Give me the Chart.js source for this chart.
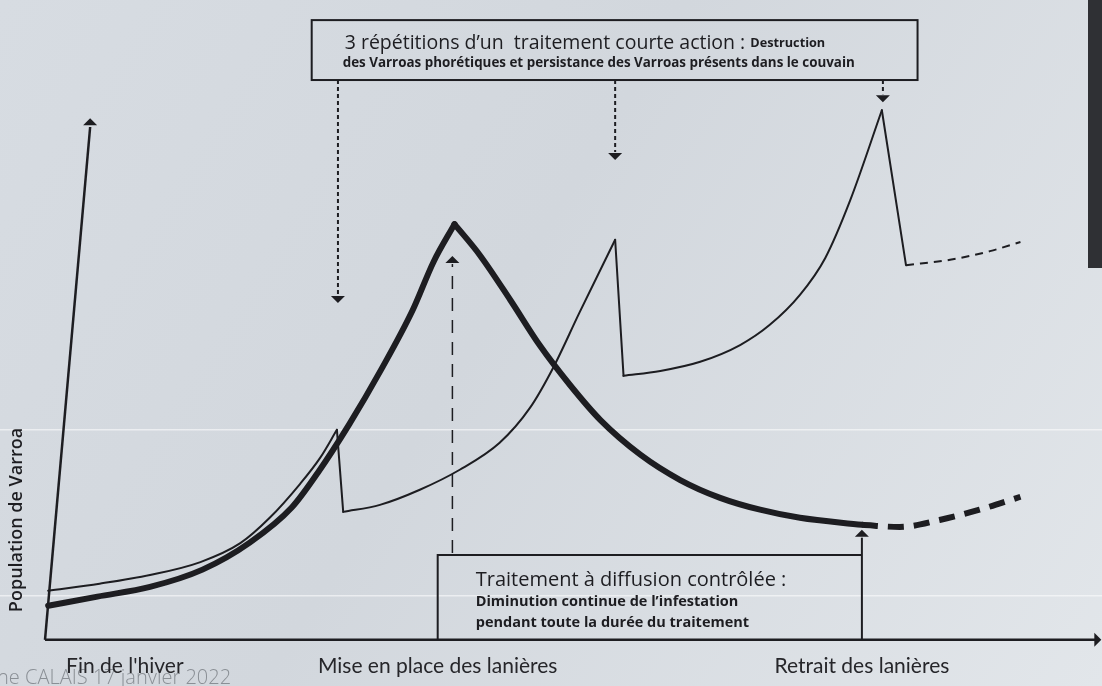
<!DOCTYPE html>
<html>
<head>
<meta charset="utf-8">
<script src="https://cdn.jsdelivr.net/npm/chart.js@4.4.0/dist/chart.umd.min.js"></script>
<style>
  html, body { margin: 0; padding: 0; background: #d8dde3; }
  #wrap { width: 1102px; height: 686px; }
</style>
</head>
<body>
<div id="wrap"><canvas id="myChart"></canvas></div>
<script>
// x : temps (unités arbitraires 0-100), y : population de Varroa (unités arbitraires 0-100)
const eventLabels = ['Fin de l\'hiver', 'Mise en place des lanières', 'Retrait des lanières'];
const eventX = [7.6, 37.4, 77.8];

// courbe épaisse : traitement à diffusion contrôlée
const thickRiseX = [0.3, 5, 10, 15, 19.5, 23.5, 26, 29, 32, 35, 37, 39];
const thickRiseY = [6.3, 8, 9.8, 13, 18, 24.5, 31, 40, 50, 61, 70, 77];
const thickFallX = [39, 41.4, 44.3, 47.1, 50, 52.9, 56.7, 60.5, 64.3, 68.1, 71.9, 77.8];
const thickFallY = [77, 71.3, 63, 54.6, 47.2, 40.7, 34.3, 29.6, 26.3, 24.1, 22.6, 21.3];
const thickAfterX = [77.8, 81.4, 85.2, 89, 92.9];
const thickAfterY = [21.3, 20.9, 22.2, 24.1, 26.5];

// courbe fine : 3 traitements courte action
const thinAX = [0.3, 5.2, 10, 14.8, 18.6, 21.4, 24.3, 26.2, 27.8];
const thinAY = [9.1, 10.4, 12, 14.4, 17.9, 22.6, 28.9, 33.7, 38.9];
const thinBX = [28.4, 31.9, 35.7, 39.5, 43.3, 46.2, 48.4, 50.9, 54.3];
const thinBY = [23.7, 25, 27.8, 31.5, 36.5, 43, 50.4, 60.6, 74.1];
const thinCX = [55.1, 58.6, 62.4, 66.2, 69, 71.9, 74.3, 76.7, 79.7];
const thinCY = [48.9, 49.8, 51.5, 54.6, 58.3, 63.9, 70.7, 81.5, 98.1];
const thinAfterX = [82, 86.2, 90, 92.9];
const thinAfterY = [69.4, 70.4, 72, 73.7];

// traitements courte action (position et pointe des flèches)
const shortTreatX = [27.9, 54.3, 79.8];
const shortTreatTipY = [62.4, 88.9, 99.6];

const ink = '#1d1d21';
const pts = (xs, ys) => xs.map((x, i) => ({ x: x, y: ys[i] }));

function line(data, width, extra) {
    return Object.assign({
        data: data,
        showLine: true,
        borderColor: ink,
        borderWidth: width,
        pointRadius: 0,
        fill: false,
        clip: false,
        borderCapStyle: 'round',
        borderJoinStyle: 'round'
    }, extra || {});
}
const smooth = { cubicInterpolationMode: 'monotone' };

const datasets = [
    line(pts(thickRiseX, thickRiseY), 6, smooth),
    line(pts(thickFallX, thickFallY), 6, smooth),
    line(pts(thickAfterX, thickAfterY), 6, Object.assign({ borderDash: [16, 10], borderCapStyle: 'butt' }, smooth)),
    line(pts(thinAX, thinAY), 2, smooth),
    line([{ x: thinAX[thinAX.length - 1], y: thinAY[thinAY.length - 1] }, { x: thinBX[0], y: thinBY[0] }], 2),
    line(pts(thinBX, thinBY), 2, smooth),
    line([{ x: thinBX[thinBX.length - 1], y: thinBY[thinBY.length - 1] }, { x: thinCX[0], y: thinCY[0] }], 2),
    line(pts(thinCX, thinCY), 2, smooth),
    line([{ x: thinCX[thinCX.length - 1], y: thinCY[thinCY.length - 1] }, { x: thinAfterX[0], y: thinAfterY[0] }], 2),
    line(pts(thinAfterX, thinAfterY), 2, Object.assign({ borderDash: [8, 6], borderCapStyle: 'butt' }, smooth))
];

function arrowHead(ctx, x, y, dir, size) {
    const s = size || 8;
    ctx.beginPath();
    if (dir === 'up') {
        ctx.moveTo(x, y); ctx.lineTo(x - s, y + s); ctx.lineTo(x + s, y + s);
    } else if (dir === 'down') {
        ctx.moveTo(x, y); ctx.lineTo(x - s, y - s); ctx.lineTo(x + s, y - s);
    } else {
        ctx.moveTo(x, y); ctx.lineTo(x - s, y - s); ctx.lineTo(x - s, y + s);
    }
    ctx.closePath();
    ctx.fill();
}

const background = {
    id: 'background',
    beforeDraw(chart) {
        const { ctx, width, height } = chart;
        ctx.save();
        const g = ctx.createLinearGradient(0, 0, width, height);
        g.addColorStop(0, '#d7dce2');
        g.addColorStop(0.45, '#d2d7dd');
        g.addColorStop(1, '#e2e6ea');
        ctx.fillStyle = g;
        ctx.fillRect(0, 0, width, height);
        // reflets blancs de la photo
        ctx.fillStyle = 'rgba(255,255,255,0.55)';
        ctx.fillRect(0, 429, width, 1.5);
        ctx.fillRect(0, 595, width, 1.5);
        // bord sombre de la photo
        ctx.fillStyle = '#2f3034';
        ctx.fillRect(1088, 0, 14, 268);
        // filigrane
        ctx.fillStyle = '#8a8f95';
        ctx.font = '300 20px "Open Sans"';
        ctx.textAlign = 'left';
        ctx.textBaseline = 'alphabetic';
        ctx.fillText('ne CALAIS 17 janvier 2022', -3, 684);
        ctx.restore();
    }
};

const annotations = {
    id: 'annotations',
    afterDraw(chart) {
        const ctx = chart.ctx;
        const X = v => chart.scales.x.getPixelForValue(v);
        const Y = v => chart.scales.y.getPixelForValue(v);
        ctx.save();
        ctx.strokeStyle = ink;
        ctx.fillStyle = ink;
        ctx.lineCap = 'butt';
        ctx.textAlign = 'left';
        ctx.textBaseline = 'alphabetic';

        // axes
        ctx.lineWidth = 2.5;
        ctx.beginPath();
        ctx.moveTo(X(0), Y(0));
        ctx.lineTo(X(4.3), Y(95));
        ctx.stroke();
        arrowHead(ctx, X(4.3), Y(96.6), 'up', 7);
        ctx.beginPath();
        ctx.moveTo(X(0), Y(0));
        ctx.lineTo(X(100), Y(0));
        ctx.stroke();
        arrowHead(ctx, X(100.6), Y(0), 'right', 7);

        // cadre du haut
        ctx.lineWidth = 2;
        const tb = { l: X(25.4), r: X(83.1), t: Y(114.8), b: Y(103.7) };
        ctx.strokeRect(tb.l, tb.t, tb.r - tb.l, tb.b - tb.t);
        ctx.font = '19.5px "Open Sans"';
        const t1 = '3 répétitions d\u2019un  traitement courte action : ';
        ctx.fillText(t1, tb.l + 33, tb.t + 29);
        const w1 = ctx.measureText(t1).width;
        ctx.font = 'bold 12.7px "Open Sans"';
        ctx.fillText('Destruction', tb.l + 33 + w1, tb.t + 27);
        ctx.font = 'bold 13.4px "Open Sans"';
        ctx.fillText('des Varroas phorétiques et persistance des Varroas présents dans le couvain', tb.l + 31, tb.t + 47);

        // flèches pointillées des traitements courte action
        ctx.lineWidth = 2;
        ctx.setLineDash([4, 3]);
        shortTreatX.forEach((x, i) => {
            ctx.beginPath();
            ctx.moveTo(X(x), tb.b);
            ctx.lineTo(X(x), Y(shortTreatTipY[i]) - 8);
            ctx.stroke();
        });
        ctx.setLineDash([]);
        shortTreatX.forEach((x, i) => arrowHead(ctx, X(x), Y(shortTreatTipY[i]), 'down', 7));

        // cadre du bas : diffusion contrôlée
        const bb = { l: X(eventX[1]), r: X(eventX[2]), t: Y(15.7), b: Y(0) };
        ctx.lineWidth = 2;
        ctx.beginPath();
        ctx.moveTo(bb.l, bb.b);
        ctx.lineTo(bb.l, bb.t);
        ctx.lineTo(bb.r, bb.t);
        ctx.stroke();
        ctx.beginPath();
        ctx.moveTo(bb.r, bb.b);
        ctx.lineTo(bb.r, Y(20.4) + 8);
        ctx.stroke();
        arrowHead(ctx, bb.r, Y(20.4), 'up', 7);

        // flèche montante pointillée (mise en place des lanières)
        ctx.lineWidth = 1.5;
        ctx.setLineDash([13, 9]);
        ctx.beginPath();
        ctx.moveTo(X(38.8), bb.t - 2);
        ctx.lineTo(X(38.8), Y(71.1) + 8);
        ctx.stroke();
        ctx.setLineDash([]);
        arrowHead(ctx, X(38.8), Y(71.1), 'up', 7);

        ctx.font = '20px "Open Sans"';
        ctx.fillText('Traitement à diffusion contrôlée :', bb.l + 38, bb.t + 31);
        ctx.font = 'bold 14.5px "Open Sans"';
        ctx.fillText('Diminution continue de l\u2019infestation', bb.l + 38, bb.t + 51);
        ctx.fillText('pendant toute la durée du traitement', bb.l + 38, bb.t + 72);

        // titre de l'axe vertical
        ctx.translate(22, 520);
        ctx.rotate(-Math.PI / 2);
        ctx.textAlign = 'center';
        ctx.font = '600 18px "Open Sans"';
        ctx.fillText('Population de Varroa', 0, 0);
        ctx.restore();
    }
};

const ctx = document.getElementById('myChart').getContext('2d');
const myChart = new Chart(ctx, {
    type: 'scatter',
    data: { datasets: datasets },
    options: {
        responsive: true,
        maintainAspectRatio: false,
        animation: false,
        layout: { padding: { left: 45, right: 7, top: 100, bottom: -7 } },
        plugins: { legend: { display: false }, tooltip: { enabled: false } },
        scales: {
            x: {
                type: 'linear',
                min: 0,
                max: 100,
                grid: { display: false, drawTicks: false },
                border: { display: false },
                afterBuildTicks: (scale) => { scale.ticks = eventX.map(v => ({ value: v })); },
                ticks: {
                    autoSkip: false,
                    maxRotation: 0,
                    padding: 14,
                    color: '#26262a',
                    font: { family: 'Lato', size: 21 },
                    callback: (value, index) => eventLabels[index]
                }
            },
            y: { type: 'linear', min: 0, max: 100, display: false }
        }
    },
    plugins: [background, annotations]
});
</script>
</body>
</html>
